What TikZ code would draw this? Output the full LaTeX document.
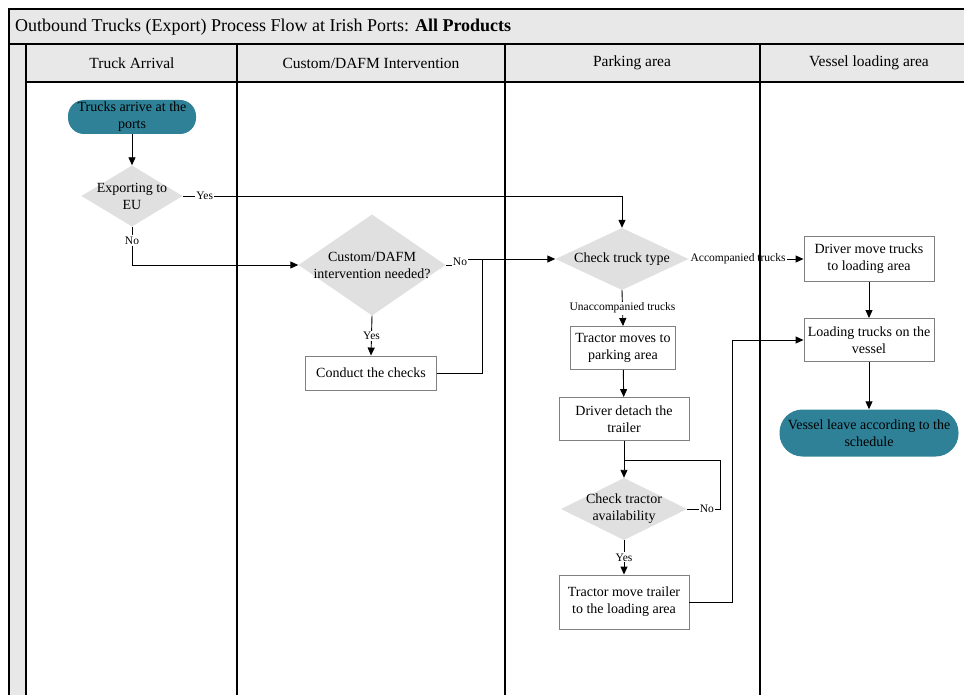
\documentclass[tikz,border=0pt]{standalone}
\usepackage{fontspec}
\setmainfont{Liberation Serif}
\usetikzlibrary{arrows.meta,calc}

\definecolor{teal1}{HTML}{2F8197}
\definecolor{hdrgray}{HTML}{E8E8E8}
\definecolor{decgray}{HTML}{E0E0E0}
\definecolor{boxline}{HTML}{808080}

\tikzset{
  txt/.style={font=\fontsize{14}{17}\selectfont, align=center, inner sep=0pt},
  terminal/.style={txt, rectangle, rounded corners=16pt, fill=teal1, text=black},
  % a decision is a rectangle whose inside is filled with a diamond;
  % its north/east/south/west anchors are the diamond's corners
  decision/.style={txt, rectangle, draw=none,
    path picture={\fill[decgray] (path picture bounding box.north)
      -- (path picture bounding box.east) -- (path picture bounding box.south)
      -- (path picture bounding box.west) -- cycle;}},
  process/.style={txt, rectangle, draw=boxline, line width=0.9pt, fill=white},
  lane/.style={font=\fontsize{15.5}{17}\selectfont, inner sep=0pt},
  elab/.style={font=\fontsize{11.5}{12}\selectfont, fill=white, inner sep=1.2pt},
  flow/.style={line width=0.9pt, draw=black},
  arr/.style={flow, -{Triangle[length=8pt,width=7pt]}},
  frame/.style={line width=1.2pt, draw=black}
}

\begin{document}
\begin{tikzpicture}[x=1pt, y=-1pt]
\useasboundingbox (0,0) rectangle (964,695);

% swimlane frame: title bar, header row, side strip
\fill[hdrgray] (9,9) rectangle (980,82);
\fill[hdrgray] (9,82) rectangle (26,700);
\draw[frame] (980,9) -- (9,9) -- (9,700);
\draw[frame] (9,44) -- (980,44);
\draw[frame] (26,82) -- (980,82);

\node[anchor=west, font=\fontsize{18}{20}\selectfont, inner sep=0pt] (title) at (15,27)
  {Outbound Trucks (Export) Process Flow at Irish Ports: \textbf{All Products}};

\node[lane] (h1) at (132,63) {Truck Arrival};
\node[lane] (h2) at (371,63) {Custom/DAFM Intervention};
\node[lane] (h3) at (632,63) {Parking area};
\node[lane] (h4) at (869,63) {Vessel loading area};

% flow nodes
\node[terminal, minimum width=128pt, minimum height=34pt] (start) at (132,117) {Trucks arrive at the\\ports};
\node[decision, minimum width=101pt, minimum height=61pt] (exp) at (132,196) {Exporting to\\EU};
\node[decision, minimum width=147pt, minimum height=101pt] (cust) at (372,265) {Custom/DAFM\\intervention needed?};
\node[process, minimum width=131pt, minimum height=34pt] (conduct) at (371,373) {Conduct the checks};
\node[decision, minimum width=133pt, minimum height=62pt] (check) at (622,259) {Check truck type};
\node[process, minimum width=105pt, minimum height=43pt] (tractor) at (623,348) {Tractor moves to\\parking area};
\node[process, minimum width=130pt, minimum height=43pt] (detach) at (624,419) {Driver detach the\\trailer};
\node[decision, minimum width=126pt, minimum height=62pt] (avail) at (624,509) {Check tractor\\availability};
\node[process, minimum width=130pt, minimum height=54pt] (tmove) at (624,602) {Tractor move trailer\\to the loading area};
\node[process, minimum width=130pt, minimum height=45pt] (driver) at (869,259) {Driver move trucks\\to loading area};
\node[process, minimum width=130pt, minimum height=43pt] (load) at (869,340) {Loading trucks on the\\vessel};
\node[terminal, minimum width=179pt, minimum height=47pt, rounded corners=23pt] (vessel) at (869,433) {Vessel leave according to the\\schedule};

% helper points for bends and joins
\coordinate (nojog) at (460,262);
\coordinate (merge) at (482,259);
\coordinate (loopc) at (720,460);
\coordinate (joinc) at (detach.south |- loopc);
\coordinate (tmc) at (732,340);

% connectors
\draw[arr] (start) -- (exp);
\draw[arr] (exp.east) -| node[elab, pos=0.025] (lyes1) {Yes} (check.north);
\draw[arr] (exp.south) |- node[elab, pos=0.18] (lno1) {No} (cust.west);
\draw[arr] (cust.south) -- node[elab] (lyes2) {Yes} (conduct.north);
\draw[arr] (cust.east) -- (cust.east -| nojog) -- (check.west -| nojog) -- (check.west);
\node[elab] (lno2) at (nojog) {No};
\draw[flow] (conduct.east) -| (merge);
\draw[arr] (check.east) -- node[elab, pos=0.43] (lacc) {Accompanied trucks} (driver.west);
\draw[arr] (check.south) -- node[elab] (lunacc) {Unaccompanied trucks} (tractor.north);
\draw[arr] (tractor) -- (detach);
\draw[arr] (detach) -- (avail);
\draw[flow] (avail.east) -- node[elab, pos=0.6] (lno3) {No} (avail.east -| loopc) -- (loopc) -- (joinc);
\draw[arr] (avail.south) -- node[elab] (lyes3) {Yes} (tmove.north);
\draw[arr] (tmove.east) -| (tmc) -- (load.west);
\draw[arr] (driver) -- (load);
\draw[arr] (load) -- (vessel);

% lane dividers on top
\draw[frame] (26,44) -- (26,700);
\draw[frame] (237,44) -- (237,700);
\draw[frame] (505,44) -- (505,700);
\draw[frame] (760,44) -- (760,700);
\end{tikzpicture}
\end{document}
